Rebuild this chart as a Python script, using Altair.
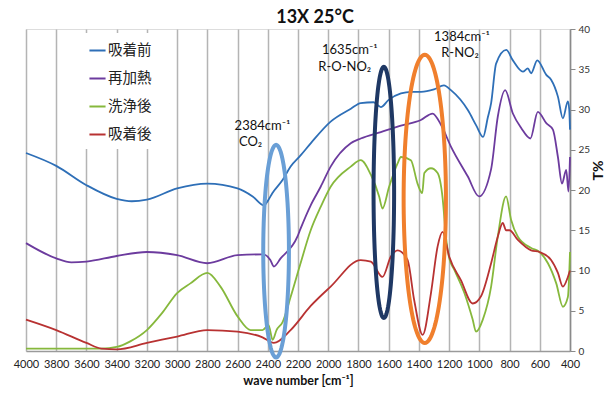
import numpy as np
import pandas as pd
import altair as alt

# ---- spectra (wave number [cm-1], T%) ----
wn_before = [4000,3800,3600,3400,3300,3200,3000,2800,2600,2500,2425,2395,2370,2300,2250,2183,2116,1984,1850,1785,1700,1652,1600,1519,1450,1386,1300,1234,1188,1075,1020,975,944,922,889,822,778,712,679,657,617,557,525,480,447,414,405,400]
t_before = [24.6,23.0,20.6,18.9,18.6,18.8,20.2,20.8,20.2,19.2,18.1,18.8,19.6,21.3,22.9,24.3,25.8,28.5,30.1,30.8,30.9,30.3,31.2,32.0,32.2,32.2,32.5,33.0,32.4,29.9,28.0,26.6,29.0,30.8,35.7,37.4,36.1,34.7,35.1,34.5,36.1,34.3,33.7,31.6,28.9,31.0,30.0,27.5]

wn_reheat = [4000,3800,3700,3600,3400,3200,3000,2800,2600,2430,2383,2360,2315,2204,2183,2116,2050,1984,1851,1785,1652,1519,1387,1309,1254,1188,1077,1002,922,878,829,778,723,662,613,557,513,480,453,425,410,400]
t_reheat = [13.4,11.5,11.0,11.1,11.8,12.3,11.9,10.9,11.9,12.0,11.3,10.5,11.5,14.2,15.2,18.1,20.4,22.9,25.8,26.4,27.2,28.0,28.7,29.5,28.1,25.4,21.7,19.2,22.6,29.1,32.4,29.5,27.7,26.4,29.7,28.3,27.5,24.1,20.8,22.5,19.8,24.1]

wn_wash = [4000,3600,3500,3400,3310,3200,3100,3000,2912,2800,2713,2600,2514,2435,2395,2368,2342,2302,2249,2183,2116,2050,1984,1851,1785,1718,1663,1641,1597,1541,1519,1453,1409,1378,1364,1320,1276,1243,1220,1199,1166,1099,1044,1022,977,922,878,823,790,745,657,602,546,491,447,414,400]
t_wash = [0.3,0.3,0.3,0.5,1.2,2.6,4.7,7.2,8.4,9.7,8.0,4.3,2.6,2.6,3.2,1.4,2.6,3.6,6.7,10.9,15.0,17.9,20.4,22.9,23.7,21.9,19.2,17.7,20.4,23.3,24.1,23.7,20.8,19.6,22.1,22.7,22.1,19.0,14.0,11.5,10.1,7.2,3.9,2.4,3.9,8.0,14.2,19.2,16.3,14.2,12.8,12.3,10.9,8.4,5.5,6.7,12.3]

wn_after = [4000,3800,3600,3500,3400,3200,3000,2800,2600,2435,2360,2249,2116,1984,1785,1718,1641,1586,1541,1475,1431,1375,1320,1276,1243,1199,1122,1044,989,922,878,845,823,801,745,657,602,525,480,447,414,400]
t_after = [3.9,2.6,1.0,0.3,0.2,1.0,1.8,2.6,2.4,1.7,1.0,2.6,5.6,8.0,11.3,11.1,9.2,11.7,12.5,11.3,6.3,2.0,7.2,13.0,14.8,11.7,8.8,5.9,6.8,10.9,14.2,15.9,15.0,15.0,13.8,12.5,12.3,11.3,9.7,8.0,9.2,10.0]

series_names = ["吸着前", "再加熱", "洗浄後", "吸着後"]
series_colors = ["#2e6fb7", "#6c3b9e", "#86b83c", "#b83232"]

# ---- highlighted bands (ellipses, in data units) ----
ell_names = ["CO2", "R-O-NO2", "R-NO2"]
ell_cx = [2345, 1632, 1361]
ell_cy = [12.4, 19.7, 18.9]
ell_rx = [85, 68, 140]
ell_ry = [13.2, 15.6, 17.9]
ell_colors = ["#6a9fd6", "#1f3864", "#f07f2d"]

# ---- annotations ----
ann_text = ["2384cm⁻¹", "CO₂", "1635cm⁻¹", "R-O-NO₂", "1384cm⁻¹", "R-NO₂"]
ann_x = [2435, 2514, 1857, 1891, 1115, 1128]
ann_y = [27.9, 26.0, 37.4, 35.3, 39.0, 37.0]

x_ticks = list(range(400, 4001, 200))
y_ticks = list(range(0, 41, 5))

# ---- build tables ----
frames = []
for name, wn, t in zip(series_names,
                       [wn_before, wn_reheat, wn_wash, wn_after],
                       [t_before, t_reheat, t_wash, t_after]):
    frames.append(pd.DataFrame({"wn": wn, "T": t, "series": name}))
spec = pd.concat(frames, ignore_index=True)

theta = np.linspace(0, 2 * np.pi, 121)
erows = []
for n, cx, cy, rx, ry, c in zip(ell_names, ell_cx, ell_cy, ell_rx, ell_ry, ell_colors):
    for i, th in enumerate(theta):
        erows.append({"name": n, "i": i, "wn": cx + rx * np.cos(th),
                      "T": cy + ry * np.sin(th), "col": c})
ell = pd.DataFrame(erows)

ann = pd.DataFrame({"text": ann_text, "wn": ann_x, "T": ann_y})

xscale = alt.Scale(domain=[400, 4000], reverse=True, nice=False, zero=False)
yscale = alt.Scale(domain=[0, 40], nice=False)

xaxis = alt.Axis(values=x_ticks, grid=True, gridColor="#b4b4b4", gridWidth=1.5,
                 ticks=False, labelPadding=7, labelFontSize=11, labelColor="#222222",
                 labelFont="Lato", domainColor="#9a9a9a", domainWidth=1.5,
                 title="wave number [cm⁻¹]", titleFont="Lato", titleFontSize=12.5,
                 titleFontWeight="bold", titleColor="#111111", titlePadding=5,
                 labelOverlap=False, labelFlush=False, format="d")
yaxis = alt.Axis(orient="right", values=y_ticks, grid=False, tickSize=5,
                 tickColor="#8a8a8a", domainColor="#8a8a8a", domainWidth=1.5,
                 labelPadding=3, labelFontSize=10, labelColor="#333333", labelFont="Lato",
                 title="T%", titleFont="Lato", titleFontSize=14, titleFontWeight="bold",
                 titleColor="#111111", titleAngle=270, titleX=28, titleY=141,
                 titleAlign="center", titleBaseline="middle")

X = alt.X("wn:Q", scale=xscale, axis=xaxis)
Y = alt.Y("T:Q", scale=yscale, axis=yaxis)

lines = alt.Chart(spec).mark_line(strokeWidth=1.8, interpolate="monotone").encode(
    x=X, y=Y,
    color=alt.Color("series:N",
                    scale=alt.Scale(domain=series_names, range=series_colors),
                    sort=series_names,
                    legend=alt.Legend(title=None, orient="none", legendX=54, legendY=4,
                                      fillColor="white", padding=8,
                                      symbolType="stroke", symbolStrokeWidth=2,
                                      symbolSize=260, labelFont="Noto Sans CJK JP",
                                      labelFontSize=14.5, labelColor="#222222",
                                      rowPadding=12, labelOffset=1)),
    order=alt.Order("wn:Q"),
    detail="series:N",
)

ellipses = alt.Chart(ell).mark_line(strokeWidth=4).encode(
    x=X, y=Y,
    detail="name:N",
    order=alt.Order("i:Q"),
    stroke=alt.Stroke("col:N", scale=None),
)

texts = alt.Chart(ann).mark_text(font="Lato", fontSize=13, color="#111111").encode(
    x=X, y=Y,
    text="text:N",
)

chart = alt.layer(lines, ellipses, texts).properties(
    width=544, height=322,
    title=alt.TitleParams(text="13X 25°C", font="Lato", fontSize=18, fontWeight="bold",
                          color="#111111", anchor="middle", dx=17, offset=-3),
    autosize=alt.AutoSizeParams(type="none"),
    padding={"left": 26, "top": 29, "right": 36, "bottom": 43},
).configure_view(stroke=None).configure(background="white")

chart.save("out.html", embed_options={"renderer": "svg", "actions": False})
